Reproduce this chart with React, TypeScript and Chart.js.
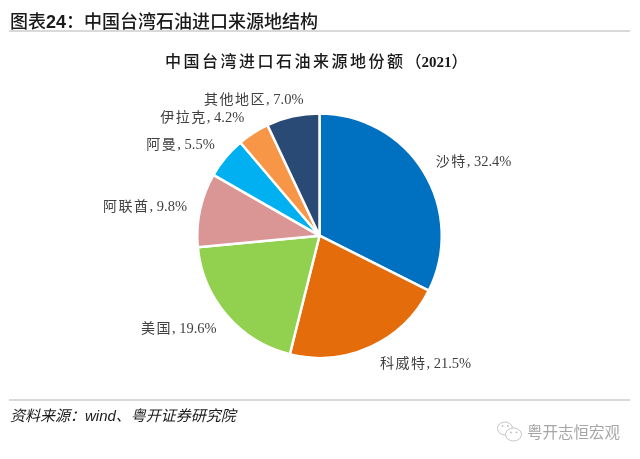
import React, { useEffect, useRef } from "react";
import { Chart, registerables } from "chart.js";

Chart.register(...registerables);

const sourceNote = "资料来源\uFF1Awind、粤开证券研究院";
const watermark = "粤开志恒宏观";
const categories = ["沙特", "科威特", "美国", "阿联酋", "阿曼", "伊拉克", "其他地区"];
const shares = [32.4, 21.5, 19.6, 9.8, 5.5, 4.2, 7.0];
const colors = ["#0070C0", "#E46C0A", "#92D050", "#D99694", "#00B0F0", "#F79646", "#2A4A76"];
// label nudges relative to the outer edge of each slice's mid-angle
const labelNudge = [
  [50, -10],
  [55, 16],
  [-48, 13],
  [-55, -4],
  [-45, -13],
  [-51, -16],
  [-39, -17],
];

const serif = '"Liberation Serif", "Noto Sans CJK SC", serif';
const sans = '"Liberation Sans", "Noto Sans CJK SC", sans-serif';
const cjk = '"Noto Sans CJK SC", sans-serif';

const labelPlugin = {
  id: "sliceLabels",
  afterDatasetsDraw(chart: any) {
    const { ctx } = chart;
    const arcs = chart.getDatasetMeta(0).data;
    ctx.save();
    ctx.fillStyle = "#404040";
    ctx.textAlign = "left";
    ctx.textBaseline = "alphabetic";
    arcs.forEach((arc: any, i: number) => {
      const mid = (arc.startAngle + arc.endAngle) / 2;
      const x = arc.x + Math.cos(mid) * arc.outerRadius + labelNudge[i][0];
      const y = arc.y + Math.sin(mid) * arc.outerRadius + labelNudge[i][1] + 5;
      const name = categories[i];
      const value = `, ${shares[i].toFixed(1)}%`;
      ctx.font = `14px ${cjk}`;
      ctx.letterSpacing = "1.5px";
      const nameWidth = ctx.measureText(name).width;
      ctx.font = `14.5px ${serif}`;
      ctx.letterSpacing = "0px";
      const valueWidth = ctx.measureText(value).width;
      const left = x - (nameWidth + valueWidth) / 2;
      ctx.font = `14px ${cjk}`;
      ctx.letterSpacing = "1.5px";
      ctx.fillText(name, left, y);
      ctx.font = `14.5px ${serif}`;
      ctx.letterSpacing = "0px";
      ctx.fillText(value, left + nameWidth, y);
    });
    ctx.restore();
  },
};

export default function App() {
  const ref = useRef<HTMLCanvasElement>(null);
  useEffect(() => {
    const chart = new Chart(ref.current!, {
      type: "pie",
      data: {
        labels: categories,
        datasets: [
          {
            data: shares,
            backgroundColor: colors,
            borderColor: "#FFFFFF",
            borderWidth: 2.5,
          },
        ],
      },
      options: {
        animation: false,
        responsive: false,
        layout: { padding: { left: 196, right: 197, top: 112.2, bottom: 99.8 } },
        plugins: {
          legend: { display: false },
          tooltip: { enabled: false },
        },
      } as any,
      plugins: [labelPlugin],
    });
    return () => chart.destroy();
  }, []);

  return (
    <div style={{ position: "fixed", left: 0, top: 0, width: 640, height: 459, background: "#fff", overflow: "hidden" }}>
      <canvas ref={ref} width={640} height={459} style={{ position: "absolute", left: 0, top: 0 }} />
      <div style={{ position: "absolute", left: 10, top: 8, lineHeight: "24px", fontFamily: cjk, fontSize: 18, fontWeight: 500, color: "#1a1a1a", whiteSpace: "nowrap" }}>
        图表<span style={{ fontFamily: sans, fontWeight: 700 }}>24</span>{"\uFF1A"}中国台湾石油进口来源地结构
      </div>
      <div style={{ position: "absolute", left: 9, width: 621, top: 30, height: 2, background: "#D9D9D9" }} />
      <div style={{ position: "absolute", left: 165, top: 49, lineHeight: "22px", fontFamily: cjk, fontSize: 16, fontWeight: 500, color: "#1a1a1a", whiteSpace: "nowrap" }}>
        <span style={{ letterSpacing: 2.5 }}>中国台湾进口石油来源地份额</span>
        <span>{"\uFF08"}</span>
        <span style={{ fontFamily: serif, fontWeight: 700, fontSize: 15 }}>2021</span>
        <span>{"\uFF09"}</span>
      </div>
      <div style={{ position: "absolute", left: 9, width: 621, top: 399, height: 2, background: "#D9D9D9" }} />
      <div style={{ position: "absolute", left: 10, top: 405, lineHeight: "22px", fontFamily: sans, fontStyle: "italic", fontSize: 15, color: "#1a1a1a", whiteSpace: "nowrap" }}>{sourceNote}</div>
      <svg width="30" height="26" viewBox="0 0 30 26" style={{ position: "absolute", left: 495, top: 419 }}>
        <ellipse cx="10" cy="9.5" rx="7.5" ry="6.5" fill="none" stroke="#C4C4C4" strokeWidth="1" />
        <ellipse cx="18.5" cy="15.5" rx="8" ry="6.5" fill="#fff" stroke="#C4C4C4" strokeWidth="1" />
        <circle cx="7.5" cy="7" r="1" fill="#C4C4C4" />
        <circle cx="13" cy="7" r="1" fill="#C4C4C4" />
        <circle cx="16" cy="13.5" r="1" fill="#C4C4C4" />
        <circle cx="21.5" cy="13.5" r="1" fill="#C4C4C4" />
      </svg>
      <div style={{ position: "absolute", left: 527, top: 420, lineHeight: "22px", fontFamily: cjk, fontSize: 15.5, color: "#A6A6A6", whiteSpace: "nowrap" }}>{watermark}</div>
    </div>
  );
}
